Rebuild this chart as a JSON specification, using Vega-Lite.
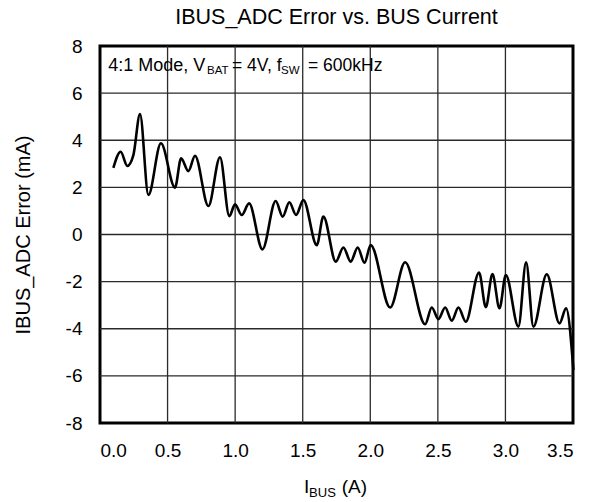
{
  "$schema": "https://vega.github.io/schema/vega-lite/v6.json",
  "width": 473,
  "height": 377,
  "autosize": {"type": "none"},
  "padding": {"left": 100, "top": 46, "right": 25, "bottom": 79},
  "background": "white",
  "title": {
    "text": "IBUS_ADC Error vs. BUS Current",
    "font": "Liberation Sans",
    "fontSize": 21.5,
    "fontWeight": "normal",
    "color": "black",
    "anchor": "middle",
    "frame": "group",
    "offset": 9
  },
  "config": {
    "view": {"stroke": "black", "strokeWidth": 3},
    "axis": {
      "labelFont": "Liberation Sans",
      "titleFont": "Liberation Sans",
      "labelColor": "black",
      "titleColor": "black",
      "labelFontSize": 19,
      "titleFontWeight": "normal",
      "domain": false,
      "ticks": false,
      "grid": false
    },
    "text": {"font": "Liberation Sans", "color": "black", "align": "left", "baseline": "alphabetic"}
  },
  "layer": [
    {
      "description": "vertical grid lines",
      "data": {"values": [{"gx": 0.5}, {"gx": 1.0}, {"gx": 1.5}, {"gx": 2.0}, {"gx": 2.5}, {"gx": 3.0}]},
      "mark": {"type": "rule", "stroke": "#2a2a2a", "strokeWidth": 1.3, "opacity": 1},
      "encoding": {"x": {"field": "gx", "type": "quantitative"}}
    },
    {
      "description": "horizontal grid lines",
      "data": {"values": [{"gy": -6}, {"gy": -4}, {"gy": -2}, {"gy": 0}, {"gy": 2}, {"gy": 4}, {"gy": 6}]},
      "mark": {"type": "rule", "stroke": "#2a2a2a", "strokeWidth": 1.3, "opacity": 1},
      "encoding": {"y": {"field": "gy", "type": "quantitative"}}
    },
    {
      "data": {
        "values": [
          {"i_bus": 0.099, "err": 2.83},
          {"i_bus": 0.153, "err": 3.51},
          {"i_bus": 0.202, "err": 2.91},
          {"i_bus": 0.247, "err": 3.37},
          {"i_bus": 0.296, "err": 5.11},
          {"i_bus": 0.358, "err": 1.68},
          {"i_bus": 0.451, "err": 3.87},
          {"i_bus": 0.555, "err": 1.99},
          {"i_bus": 0.600, "err": 3.23},
          {"i_bus": 0.654, "err": 2.69},
          {"i_bus": 0.703, "err": 3.34},
          {"i_bus": 0.802, "err": 1.21},
          {"i_bus": 0.888, "err": 3.28},
          {"i_bus": 0.957, "err": 0.78},
          {"i_bus": 0.999, "err": 1.28},
          {"i_bus": 1.049, "err": 0.83},
          {"i_bus": 1.103, "err": 1.32},
          {"i_bus": 1.202, "err": -0.63},
          {"i_bus": 1.300, "err": 1.42},
          {"i_bus": 1.352, "err": 0.76},
          {"i_bus": 1.401, "err": 1.37},
          {"i_bus": 1.451, "err": 0.83},
          {"i_bus": 1.505, "err": 1.46},
          {"i_bus": 1.604, "err": -0.45},
          {"i_bus": 1.653, "err": 0.76},
          {"i_bus": 1.745, "err": -1.15},
          {"i_bus": 1.801, "err": -0.55},
          {"i_bus": 1.855, "err": -1.15},
          {"i_bus": 1.907, "err": -0.55},
          {"i_bus": 1.957, "err": -1.2},
          {"i_bus": 2.003, "err": -0.45},
          {"i_bus": 2.147, "err": -3.1},
          {"i_bus": 2.258, "err": -1.18},
          {"i_bus": 2.406, "err": -3.81},
          {"i_bus": 2.455, "err": -3.1},
          {"i_bus": 2.504, "err": -3.59},
          {"i_bus": 2.554, "err": -3.1},
          {"i_bus": 2.603, "err": -3.66},
          {"i_bus": 2.652, "err": -3.1},
          {"i_bus": 2.707, "err": -3.7},
          {"i_bus": 2.805, "err": -1.61},
          {"i_bus": 2.855, "err": -3.09},
          {"i_bus": 2.904, "err": -1.68},
          {"i_bus": 2.956, "err": -3.13},
          {"i_bus": 3.003, "err": -1.72},
          {"i_bus": 3.096, "err": -3.91},
          {"i_bus": 3.153, "err": -1.18},
          {"i_bus": 3.207, "err": -3.91},
          {"i_bus": 3.306, "err": -1.69},
          {"i_bus": 3.400, "err": -3.77},
          {"i_bus": 3.449, "err": -3.13},
          {"i_bus": 3.503, "err": -5.75}
        ]
      },
      "mark": {"type": "line", "color": "black", "strokeWidth": 2.6, "interpolate": "monotone"},
      "encoding": {
        "x": {
          "field": "i_bus",
          "type": "quantitative",
          "scale": {"domain": [0, 3.5], "nice": false, "zero": false},
          "axis": {
            "values": [0, 0.5, 1, 1.5, 2, 2.5, 3, 3.5],
            "format": ".1f",
            "title": null,
            "labelPadding": 18
          }
        },
        "y": {
          "field": "err",
          "type": "quantitative",
          "scale": {"domain": [-8, 8], "nice": false},
          "axis": {
            "values": [-8, -6, -4, -2, 0, 2, 4, 6, 8],
            "labelExpr": "datum.value < 0 ? '-' + abs(datum.value) : '' + datum.value",
            "title": "IBUS_ADC Error (mA)",
            "titleFontSize": 20,
            "labelPadding": 18,
            "titlePadding": 32
          }
        }
      }
    },
    {
      "data": {"values": [{}]},
      "layer": [
        {
          "mark": {"type": "text", "text": "4:1 Mode, V", "fontSize": 18},
          "encoding": {"x": {"datum": 0.061}, "y": {"datum": 6.94}}
        },
        {
          "mark": {"type": "text", "text": "BAT", "fontSize": 11.5},
          "encoding": {"x": {"datum": 0.792}, "y": {"datum": 6.81}}
        },
        {
          "mark": {"type": "text", "text": "= 4V, f", "fontSize": 17.5},
          "encoding": {"x": {"datum": 0.977}, "y": {"datum": 6.94}}
        },
        {
          "mark": {"type": "text", "text": "SW", "fontSize": 11.5},
          "encoding": {"x": {"datum": 1.339}, "y": {"datum": 6.81}}
        },
        {
          "mark": {"type": "text", "text": "= 600kHz", "fontSize": 17.5},
          "encoding": {"x": {"datum": 1.539}, "y": {"datum": 6.94}}
        },
        {
          "mark": {"type": "text", "text": "I", "fontSize": 19},
          "encoding": {"x": {"datum": 1.51}, "y": {"datum": -10.97}}
        },
        {
          "mark": {"type": "text", "text": "BUS", "fontSize": 13},
          "encoding": {"x": {"datum": 1.547}, "y": {"datum": -11.14}}
        },
        {
          "mark": {"type": "text", "text": "(A)", "fontSize": 19},
          "encoding": {"x": {"datum": 1.789}, "y": {"datum": -10.97}}
        }
      ]
    }
  ]
}
